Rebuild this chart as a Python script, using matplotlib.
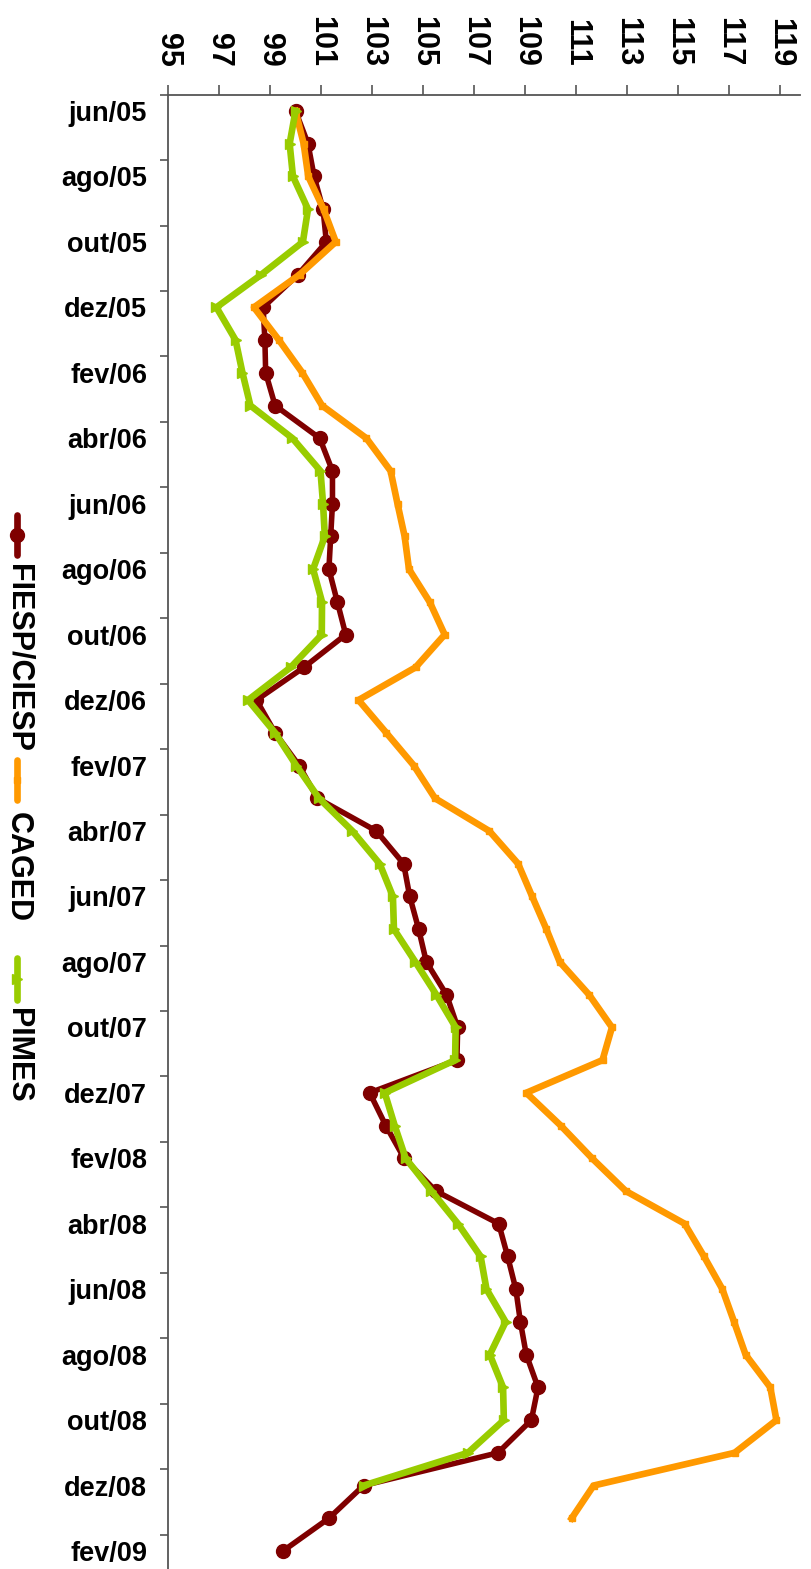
import numpy as np
import matplotlib
matplotlib.use("Agg")
import matplotlib.pyplot as plt
from matplotlib.lines import Line2D
from matplotlib.font_manager import FontProperties

plt.rcParams['font.family'] = ['Liberation Sans', 'DejaVu Sans']

months = ["jun/05", "jul/05", "ago/05", "set/05", "out/05", "nov/05", "dez/05",
          "jan/06", "fev/06", "mar/06", "abr/06", "mai/06", "jun/06", "jul/06",
          "ago/06", "set/06", "out/06", "nov/06", "dez/06", "jan/07", "fev/07",
          "mar/07", "abr/07", "mai/07", "jun/07", "jul/07", "ago/07", "set/07",
          "out/07", "nov/07", "dez/07", "jan/08", "fev/08", "mar/08", "abr/08",
          "mai/08", "jun/08", "jul/08", "ago/08", "set/08", "out/08", "nov/08",
          "dez/08", "jan/09", "fev/09"]

fiesp = [100.0, 100.49, 100.73, 101.08, 101.21, 100.10, 98.73, 98.80, 98.83, 99.20,
         100.95, 101.45, 101.45, 101.38, 101.31, 101.64, 101.97, 100.33, 98.47, 99.20,
         100.14, 100.86, 103.17, 104.24, 104.48, 104.83, 105.13, 105.92, 106.36, 106.33,
         102.91, 103.54, 104.26, 105.50, 107.97, 108.32, 108.64, 108.82, 109.05, 109.51,
         109.25, 107.94, 102.67, 101.31, 99.51]

caged = [100.0, 100.32, 100.50, 101.10, 101.58, 100.16, 98.37, 99.35, 100.27, 101.04,
         102.78, 103.73, 104.0, 104.28, 104.45, 105.26, 105.85, 104.71, 102.47, 103.56,
         104.64, 105.47, 107.6, 108.73, 109.28, 109.84, 110.36, 111.51, 112.41, 112.04,
         109.05, 110.4, 111.63, 112.95, 115.26, 116.02, 116.74, 117.20, 117.65, 118.62,
         118.86, 117.22, 111.69, 110.83]

pimes = [100.0, 99.77, 99.90, 100.49, 100.29, 98.66, 96.90, 97.65, 97.92, 98.23,
         99.88, 100.98, 101.08, 101.15, 100.69, 101.04, 101.03, 99.81, 98.14, 99.20,
         100.03, 100.92, 102.23, 103.30, 103.82, 103.86, 104.70, 105.52, 106.28, 106.26,
         103.50, 103.89, 104.32, 105.33, 106.37, 107.26, 107.49, 108.24, 107.62, 108.14,
         108.17, 106.76, 102.67]

value_ticks = list(range(95, 120, 2))
series_names = ["FIESP/CIESP", "CAGED", "PIMES"]
colors = ["#7f0000", "#ff9900", "#99cc00"]

W, H = 812, 1569
fig = plt.figure(figsize=(W / 100, H / 100), dpi=100)
ax = fig.add_axes([168 / W, 0, (800 - 168) / W, (H - 94.6) / H])

pos = np.arange(len(months))
ax.plot(fiesp, pos[:len(fiesp)], color=colors[0], lw=4.0, marker='o', ms=10,
        zorder=2, solid_joinstyle='round')
ax.plot(caged, pos[:len(caged)], color=colors[1], lw=4.8, marker='s', ms=5,
        zorder=3, solid_joinstyle='round')
ax.plot(pimes, pos[:len(pimes)], color=colors[2], lw=4.8, marker='>', ms=7,
        zorder=4, solid_joinstyle='round')

ax.set_xlim(95, 95 + (800 - 168) / 25.5)
ax.set_ylim(44.55, -0.5)

spine_col = "#555555"
for s in ['right', 'bottom']:
    ax.spines[s].set_visible(False)
for s in ['top', 'left']:
    ax.spines[s].set_color(spine_col)
    ax.spines[s].set_linewidth(1.3)

ax.xaxis.tick_top()
ax.set_xticks(value_ticks)
ax.set_xticklabels([str(v) for v in value_ticks], rotation=-90,
                   fontsize=22, fontweight='bold')
ax.tick_params(axis='x', direction='out', length=7, width=1.2, color=spine_col, pad=13)

ax.set_yticks(np.arange(-0.5, len(months) - 1, 2))
ax.set_yticklabels([])
ax.set_yticks(pos[::2], minor=True)
ax.set_yticklabels(months[::2], minor=True, fontsize=19.5, fontweight='bold')
ax.tick_params(axis='y', which='major', direction='out', length=5.8, width=1.2, color=spine_col)
ax.tick_params(axis='y', which='minor', length=0, pad=15)

# legend (rotated, drawn manually)
def fy(p):
    return 1 - p / H

legend_font = FontProperties(family='Liberation Sans', weight='bold', size=22)
lx = 17 / W
handle_spans = [(515, 555), (760, 800), (958, 1000)]
text_tops = [564, 812, 1008]
markers = ['o', 's', '>']
msz = [10, 5, 7]
for name, col, (a, b), tt, mk, ms in zip(series_names, colors, handle_spans, text_tops, markers, msz):
    fig.add_artist(Line2D([lx, lx], [fy(a), fy(b)], transform=fig.transFigure,
                          color=col, lw=4.8, solid_capstyle='round'))
    fig.add_artist(Line2D([lx], [fy((a + b) / 2)], transform=fig.transFigure,
                          color=col, marker=mk, ms=ms, lw=0))
    fig.text(18 / W, fy(tt), name, rotation=-90, ha='center', va='top',
             fontproperties=legend_font)

fig.savefig("out.png", dpi=100)
